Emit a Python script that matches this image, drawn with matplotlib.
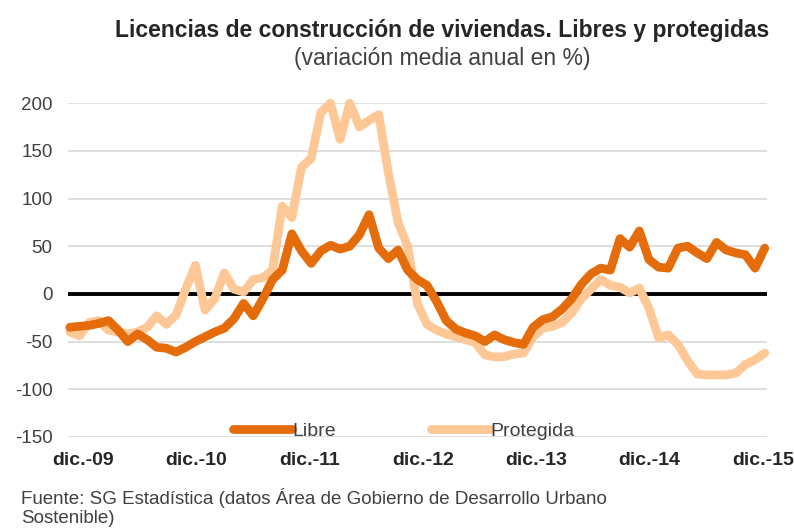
import numpy as np
import matplotlib
matplotlib.use("Agg")
import matplotlib.pyplot as plt

plt.rcParams['font.family'] = ['Liberation Sans', 'DejaVu Sans']
plt.rcParams['axes.unicode_minus'] = False

# monthly average annual variation (%), dic.-09 .. dic.-15
libre = [-35, -34, -33, -31, -28, -38, -50, -42, -48, -56, -57, -61, -56,
         -50, -45, -40, -36, -26, -10, -23, -5, 15, 25, 63, 45, 32, 45,
         51, 47, 50, 62, 83, 48, 37, 46, 25, 15, 9, -8, -28, -37, -41,
         -44, -50, -43, -48, -51, -53, -35, -27, -24, -16, -5, 10, 21,
         27, 25, 58, 49, 66, 36, 28, 27, 48, 50, 43, 37, 54, 46, 43, 41,
         27, 48]
protegida = [-40, -44, -30, -28, -38, -40, -42, -40, -35, -23, -32, -22, 5,
             30, -17, -5, 22, 5, 2, 15, 17, 25, 92, 80, 133, 142, 190,
             200, 162, 200, 175, 182, 188, 127, 75, 50, -10, -32, -38, -42,
             -45, -48, -51, -64, -66, -66, -63, -62, -45, -36, -34, -30,
             -20, -5, 5, 15, 9, 7, 1, 6, -15, -46, -43, -53, -70, -84, -85,
             -85, -85, -83, -74, -69, -62]
year_labels = ['dic.-09', 'dic.-10', 'dic.-11', 'dic.-12', 'dic.-13', 'dic.-14', 'dic.-15']

months = np.arange(len(libre))

fig = plt.figure(figsize=(7.94, 5.29), dpi=100)
ax = fig.add_axes([0.0856, 0.174, 0.880, 0.631])

ax.set_ylim(-150, 200)
ax.set_xlim(-0.2, 72.2)
ax.set_yticks(np.arange(-150, 201, 50))
ax.grid(axis='y', color='#d9d9d9', linewidth=1.2)
ax.set_axisbelow(True)
ax.axhline(0, color='black', linewidth=2.8, zorder=1.8)

ax.plot(months, protegida, color='#fec896', linewidth=6.3, solid_joinstyle='round',
        solid_capstyle='round', label='Protegida', zorder=2, clip_on=False)
ax.plot(months, libre, color='#e46c0a', linewidth=6.3, solid_joinstyle='round',
        solid_capstyle='round', label='Libre', zorder=3, clip_on=False)

for s in ax.spines.values():
    s.set_visible(False)

ax.set_xticks(np.linspace(1.35, 71.8, len(year_labels)))
ax.set_xticklabels(year_labels, fontsize=14, fontweight='bold', color='#262626')
ax.tick_params(axis='both', length=0)
ax.tick_params(axis='y', labelsize=13.5, labelcolor='#404040', pad=11)
ax.tick_params(axis='x', pad=11)

h, l = ax.get_legend_handles_labels()
leg = ax.legend(h[::-1], l[::-1], loc='center', bbox_to_anchor=(0.481, 0.018),
                ncol=2, frameon=False, fontsize=14, handlelength=3.0,
                handletextpad=0.05, columnspacing=4.9, borderpad=0)
for t in leg.get_texts():
    t.set_color('#404040')

fig.text(0.557, 0.943, 'Licencias de construcción de viviendas. Libres y protegidas',
         ha='center', va='center', fontsize=16.5, fontweight='bold', color='#262626')
fig.text(0.557, 0.89, '(variación media anual en %)', ha='center', va='center',
         fontsize=16.5, color='#404040')
fig.text(0.027, 0.04, 'Fuente: SG Estadística (datos Área de Gobierno de Desarrollo Urbano\nSostenible)',
         ha='left', va='center', fontsize=13.5, color='#404040', linespacing=1.17)

fig.savefig('out.png', dpi=100)
